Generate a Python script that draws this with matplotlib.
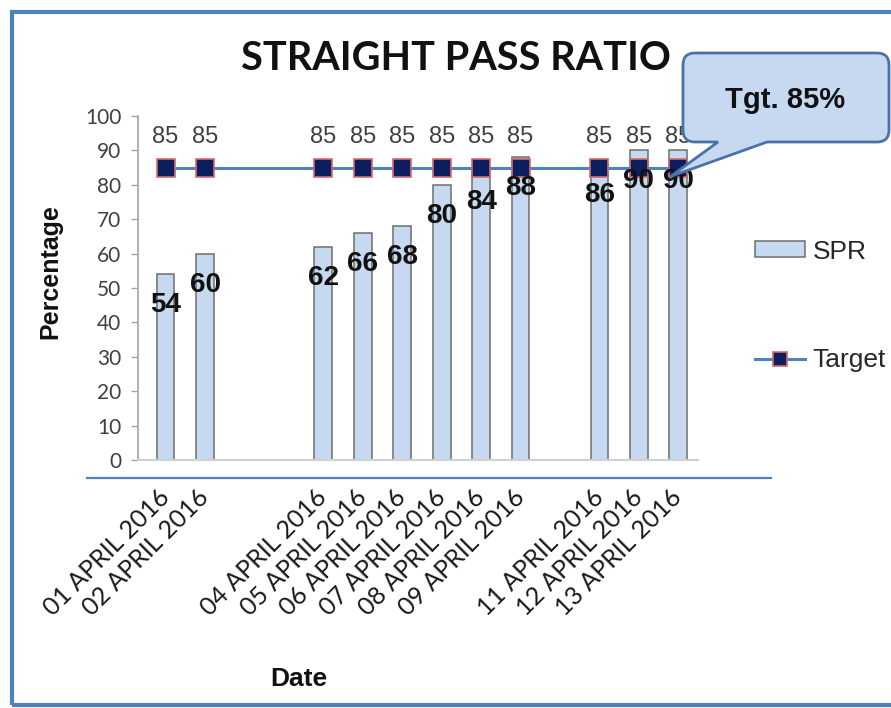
import matplotlib
matplotlib.use('Agg')
import matplotlib.pyplot as plt
import numpy as np
from matplotlib.path import Path
from matplotlib.patches import PathPatch, Rectangle
from matplotlib.lines import Line2D
from matplotlib.transforms import IdentityTransform, offset_copy

# daily straight pass ratio, blank slots are days without data
dates = ['01 APRIL 2016', '02 APRIL 2016', '', '', '04 APRIL 2016', '05 APRIL 2016',
         '06 APRIL 2016', '07 APRIL 2016', '08 APRIL 2016', '09 APRIL 2016', '',
         '11 APRIL 2016', '12 APRIL 2016', '13 APRIL 2016']
spr = [54, 60, None, None, 62, 66, 68, 80, 84, 88, None, 86, 90, 90]
target = [85, 85, None, None, 85, 85, 85, 85, 85, 85, None, 85, 85, 85]
y_ticks = [0, 10, 20, 30, 40, 50, 60, 70, 80, 90, 100]

W, H = 891, 708
fig = plt.figure(figsize=(W / 100, H / 100), dpi=100)
px = IdentityTransform()

ax = fig.add_axes([138 / W, 1 - 460 / H, 560 / W, 344 / H])

x = np.arange(len(dates))
has = np.array([v is not None for v in spr])
xs = x[has]
spr_v = [v for v in spr if v is not None]
tgt_v = [v for v in target if v is not None]

bars = ax.bar(xs, spr_v, width=0.45, color='#c6d9f1', edgecolor='#6e6e6e', linewidth=1.1,
              label='SPR', zorder=2)
line, = ax.plot(xs, tgt_v, color='#4f81bd', lw=2.2, marker='s', ms=13, mfc='#0d1e5e',
                mec='#d46a6a', mew=1.2, label='Target', zorder=3)

for xi, v in zip(xs, spr_v):
    ax.text(xi, v - 9, str(v), ha='center', va='center', fontsize=20,
            fontweight='bold', family='Liberation Sans', color='#111111', zorder=5)
for xi, v in zip(xs, tgt_v):
    ax.text(xi, v + 9, str(v), ha='center', va='center', fontsize=17,
            family='Liberation Sans', color='#404040', zorder=5)

ax.set_xlim(-0.7, 13.5)
ax.set_ylim(0, 100)
ax.set_yticks(y_ticks)
ax.set_yticklabels([str(t) for t in y_ticks], family='Lato', fontsize=15, color='#404040')
ax.set_xticks(x)
ax.set_xticklabels(dates, family='Lato', fontsize=18, color='#1a1a1a', rotation=45,
                   ha='right', va='center', rotation_mode='anchor')
for lab in ax.get_xticklabels():
    lab.set_transform(offset_copy(lab.get_transform(), fig=fig, x=9, y=0, units='dots'))
ax.tick_params(axis='y', length=5, width=1, color='#a6a6a6', pad=7)
ax.tick_params(axis='x', length=0, pad=24)
for s in ['top', 'right']:
    ax.spines[s].set_visible(False)
ax.spines['left'].set_color('#a6a6a6')
ax.spines['left'].set_linewidth(1.2)
ax.spines['bottom'].set_color('#d0d0d0')
ax.spines['bottom'].set_linewidth(1.5)

fig.text(456 / W, 1 - 59 / H, 'STRAIGHT PASS RATIO', ha='center', va='center',
         family='Lato', fontweight='bold', fontsize=28.5, color='#111111')
fig.text(50 / W, 1 - 272 / H, 'Percentage', ha='center', va='center', rotation=90,
         family='Liberation Sans', fontweight='bold', fontsize=18, color='#111111')
fig.text(299 / W, 1 - 679 / H, 'Date', ha='center', va='center',
         family='Liberation Sans', fontweight='bold', fontsize=19, color='#111111')

leg = fig.legend([bars, line], ['SPR', 'Target'], loc='center left',
                 bbox_to_anchor=(731 / W, 1 - 306 / H), frameon=False,
                 prop={'family': 'Liberation Sans', 'size': 19}, handlelength=1.9,
                 handleheight=0.55, labelspacing=3.2, handletextpad=0.3, markerscale=0.75)
for t in leg.get_texts():
    t.set_color('#262626')

# callout box pointing at the last target point
tip = ax.transData.transform((13, 85)) + np.array([-8, -9])
L, R, T, B, r = 683, 889, H - 53, H - 142, 12
verts = [(L + r, T), (R - r, T), (R, T), (R, T - r), (R, B + r), (R, B), (R - r, B),
         (767, B), tuple(tip), (718, B), (L + r, B), (L, B), (L, B + r), (L, T - r),
         (L, T), (L + r, T), (L + r, T)]
codes = [Path.MOVETO, Path.LINETO, Path.CURVE3, Path.CURVE3, Path.LINETO, Path.CURVE3,
         Path.CURVE3, Path.LINETO, Path.LINETO, Path.LINETO, Path.LINETO, Path.CURVE3,
         Path.CURVE3, Path.LINETO, Path.CURVE3, Path.CURVE3, Path.CLOSEPOLY]
fig.add_artist(PathPatch(Path(verts, codes), fc='#c6d9f1', ec='#4a72a6', lw=2,
                         transform=px, zorder=6))
fig.text(785 / W, 1 - 100 / H, 'Tgt. 85%', ha='center', va='center', zorder=7,
         family='Liberation Sans', fontweight='bold', fontsize=21, color='#111111')

# frame and separator
fig.add_artist(Rectangle((12, H - 705), 900, 693, fill=False, ec='#4f81bd', lw=3,
                         transform=px, zorder=8))
fig.add_artist(Line2D([87, 771], [H - 478, H - 478], color='#4f81bd', lw=1.6,
                      transform=px, zorder=8))

fig.savefig('out.png', dpi=100)
